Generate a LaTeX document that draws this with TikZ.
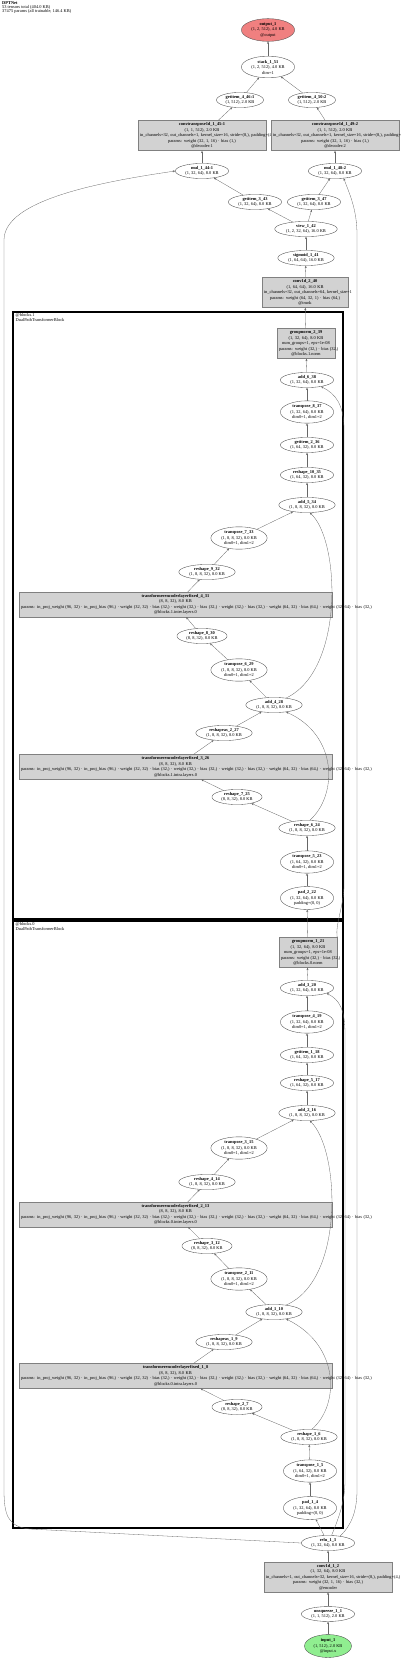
\documentclass[tikz,border=0pt]{standalone}
\usepackage{fontspec}
\setmainfont{Liberation Serif}
\usepackage{tikz}
\usetikzlibrary{shapes.geometric, arrows.meta}
\definecolor{outfill}{HTML}{F08080}
\definecolor{infill}{HTML}{90EE90}
\newcommand{\tfparams}{params: in\_proj\_weight (96, 32) · in\_proj\_bias (96,) · weight (32, 32) · bias (32,) · weight (32,) · bias (32,) · weight (32,) · bias (32,) · weight (64, 32) · bias (64,) · weight (32, 64) · bias (32,)}

\begin{document}
        \begin{tikzpicture}[x = 1pt, y = -1pt,
            opnode/.style = {ellipse, draw = black!70, fill = white, line width = 0.35pt, inner xsep = 2.2pt, inner ysep = 0.6pt, align = center, font = \fontsize{4.4}{5.5}\selectfont},
            modbox/.style = {rectangle, draw = black!50, fill = gray!35, line width = 0.35pt, inner xsep = 2pt, inner ysep = 2.2pt, align = center, font = \fontsize{4.4}{5.5}\selectfont, text width = #1},
            cluster/.style = {draw = black, line width = 1.1pt},
            flow/.style = {draw = black!60, line width = 0.3pt, -{Stealth[length = 2.4pt, width = 2pt]}}]
            \useasboundingbox (0, 0) rectangle (400, 1661);
            \node[anchor = north west, align = left, inner sep = 0pt, font = \fontsize{4.4}{4.4}\selectfont] (title) at (2, 1) {\textbf{DPTNet}\\53 tensors total (404.0 KB)\\37475 params (all trainable, 146.4 KB)};
            \draw[cluster] (13, 312) rectangle (343, 919);
            \draw[cluster] (13, 921) rectangle (343, 1528);
            \node[anchor = north west, align = left, inner sep = 0pt, font = \fontsize{4.4}{4.8}\selectfont] (lab1) at (15.5, 313.5) {@blocks.1\\DualPathTransformerBlock};
            \node[anchor = north west, align = left, inner sep = 0pt, font = \fontsize{4.4}{4.8}\selectfont] (lab0) at (15.5, 922.5) {@blocks.0\\DualPathTransformerBlock};
            \node[opnode, fill = outfill] (out) at (268, 30) {\textbf{output\_1}\\(1, 2, 512), 4.0 KB\\@output};
            \node[opnode] (stack51) at (268, 67) {\textbf{stack\_1\_51}\\(1, 2, 512), 4.0 KB\\dim=1};
            \node[opnode] (gi46) at (240, 100) {\textbf{getitem\_4\_46:1}\\(1, 512), 2.0 KB};
            \node[opnode] (gi50) at (312, 100) {\textbf{getitem\_4\_50:2}\\(1, 512), 2.0 KB};
            \node[modbox = 124pt] (ct45) at (202, 135.5) {\textbf{convtranspose1d\_1\_45:1}\\(1, 1, 512), 2.0 KB\\\mbox{in\_channels=32, out\_channels=1, kernel\_size=16, stride=(8,), padding=(4,)}\\\mbox{params: weight (32, 1, 16) · bias (1,)}\\@decoder:1};
            \node[modbox = 124pt] (ct49) at (335, 135.5) {\textbf{convtranspose1d\_1\_49:2}\\(1, 1, 512), 2.0 KB\\\mbox{in\_channels=32, out\_channels=1, kernel\_size=16, stride=(8,), padding=(4,)}\\\mbox{params: weight (32, 1, 16) · bias (1,)}\\@decoder:2};
            \node[opnode] (mul44) at (202, 171) {\textbf{mul\_1\_44:1}\\(1, 32, 64), 8.0 KB};
            \node[opnode] (mul48) at (335, 171) {\textbf{mul\_1\_48:2}\\(1, 32, 64), 8.0 KB};
            \node[opnode] (gi43) at (255, 202) {\textbf{getitem\_3\_43}\\(1, 32, 64), 8.0 KB};
            \node[opnode] (gi47) at (314, 202) {\textbf{getitem\_3\_47}\\(1, 32, 64), 8.0 KB};
            \node[opnode] (view42) at (306, 229) {\textbf{view\_1\_42}\\(1, 2, 32, 64), 16.0 KB};
            \node[opnode] (sig41) at (306, 258) {\textbf{sigmoid\_1\_41}\\(1, 64, 64), 16.0 KB};
            \node[modbox = 82pt] (conv40) at (305, 292.5) {\textbf{conv1d\_2\_40}\\(1, 64, 64), 16.0 KB\\\mbox{in\_channels=32, out\_channels=64, kernel\_size=1}\\\mbox{params: weight (64, 32, 1) · bias (64,)}\\@trunk};
            \node[modbox = 54pt] (gn39) at (306, 343.5) {\textbf{groupnorm\_2\_39}\\(1, 32, 64), 8.0 KB\\\mbox{num\_groups=1, eps=1e-08}\\\mbox{params: weight (32,) · bias (32,)}\\@blocks.1.norm};
            \node[opnode] (add38) at (307, 380) {\textbf{add\_6\_38}\\(1, 32, 64), 8.0 KB};
            \node[opnode] (tr37) at (307, 412) {\textbf{transpose\_8\_37}\\(1, 32, 64), 8.0 KB\\dim0=1, dim1=2};
            \node[opnode] (gi36) at (307, 445) {\textbf{getitem\_2\_36}\\(1, 64, 32), 8.0 KB};
            \node[opnode] (rs35) at (307, 475) {\textbf{reshape\_10\_35}\\(1, 64, 32), 8.0 KB};
            \node[opnode] (add34) at (307, 505) {\textbf{add\_5\_34}\\(1, 8, 8, 32), 8.0 KB};
            \node[opnode] (tr33) at (239, 538) {\textbf{transpose\_7\_33}\\(1, 8, 8, 32), 8.0 KB\\dim0=1, dim1=2};
            \node[opnode] (rs32) at (207, 572) {\textbf{reshape\_9\_32}\\(1, 8, 8, 32), 8.0 KB};
            \node[modbox = 309pt] (tf31) at (175.5, 604.5) {\textbf{transformerencoderlayerfixed\_4\_31}\\(8, 8, 32), 8.0 KB\\\mbox{\tfparams}\\@blocks.1.inter.layers.0};
            \node[opnode] (rs30) at (202, 636) {\textbf{reshape\_8\_30}\\(8, 8, 32), 8.0 KB};
            \node[opnode] (tr29) at (239, 670) {\textbf{transpose\_6\_29}\\(1, 8, 8, 32), 8.0 KB\\dim0=1, dim1=2};
            \node[opnode] (add28) at (274, 705) {\textbf{add\_4\_28}\\(1, 8, 8, 32), 8.0 KB};
            \node[opnode] (ra27) at (224, 733) {\textbf{reshapeas\_2\_27}\\(1, 8, 8, 32), 8.0 KB};
            \node[modbox = 309pt] (tf26) at (175.5, 767) {\textbf{transformerencoderlayerfixed\_3\_26}\\(8, 8, 32), 8.0 KB\\\mbox{\tfparams}\\@blocks.1.intra.layers.0};
            \node[opnode] (rs25) at (237, 797) {\textbf{reshape\_7\_25}\\(8, 8, 32), 8.0 KB};
            \node[opnode] (rs24) at (307, 828) {\textbf{reshape\_6\_24}\\(1, 8, 8, 32), 8.0 KB};
            \node[opnode] (tr23) at (307, 862) {\textbf{transpose\_5\_23}\\(1, 64, 32), 8.0 KB\\dim0=1, dim1=2};
            \node[opnode] (pad22) at (307, 898) {\textbf{pad\_2\_22}\\(1, 32, 64), 8.0 KB\\padding=(0, 0)};
            \node[modbox = 54pt] (gn21) at (308, 952.5) {\textbf{groupnorm\_1\_21}\\(1, 32, 64), 8.0 KB\\\mbox{num\_groups=1, eps=1e-08}\\\mbox{params: weight (32,) · bias (32,)}\\@blocks.0.norm};
            \node[opnode] (add20) at (307, 988) {\textbf{add\_3\_20}\\(1, 32, 64), 8.0 KB};
            \node[opnode] (tr19) at (307, 1022) {\textbf{transpose\_4\_19}\\(1, 32, 64), 8.0 KB\\dim0=1, dim1=2};
            \node[opnode] (gi18) at (307, 1055) {\textbf{getitem\_1\_18}\\(1, 64, 32), 8.0 KB};
            \node[opnode] (rs17) at (307, 1083) {\textbf{reshape\_5\_17}\\(1, 64, 32), 8.0 KB};
            \node[opnode] (add16) at (307, 1113) {\textbf{add\_2\_16}\\(1, 8, 8, 32), 8.0 KB};
            \node[opnode] (tr15) at (239, 1148) {\textbf{transpose\_3\_15}\\(1, 8, 8, 32), 8.0 KB\\dim0=1, dim1=2};
            \node[opnode] (rs14) at (207, 1182) {\textbf{reshape\_4\_14}\\(1, 8, 8, 32), 8.0 KB};
            \node[modbox = 309pt] (tf13) at (175.5, 1214.5) {\textbf{transformerencoderlayerfixed\_2\_13}\\(8, 8, 32), 8.0 KB\\\mbox{\tfparams}\\@blocks.0.inter.layers.0};
            \node[opnode] (rs12) at (207, 1246) {\textbf{reshape\_3\_12}\\(8, 8, 32), 8.0 KB};
            \node[opnode] (tr11) at (239, 1279) {\textbf{transpose\_2\_11}\\(1, 8, 8, 32), 8.0 KB\\dim0=1, dim1=2};
            \node[opnode] (add10) at (274, 1312) {\textbf{add\_1\_10}\\(1, 8, 8, 32), 8.0 KB};
            \node[opnode] (ra9) at (224, 1342) {\textbf{reshapeas\_1\_9}\\(1, 8, 8, 32), 8.0 KB};
            \node[modbox = 309pt] (tf8) at (175.5, 1376) {\textbf{transformerencoderlayerfixed\_1\_8}\\(8, 8, 32), 8.0 KB\\\mbox{\tfparams}\\@blocks.0.intra.layers.0};
            \node[opnode] (rs7) at (237, 1407) {\textbf{reshape\_2\_7}\\(8, 8, 32), 8.0 KB};
            \node[opnode] (rs6) at (309, 1437) {\textbf{reshape\_1\_6}\\(1, 8, 8, 32), 8.0 KB};
            \node[opnode] (tr5) at (310, 1471) {\textbf{transpose\_1\_5}\\(1, 64, 32), 8.0 KB\\dim0=1, dim1=2};
            \node[opnode] (pad4) at (310, 1508) {\textbf{pad\_1\_4}\\(1, 32, 64), 8.0 KB\\padding=(0, 0)};
            \node[opnode] (relu3) at (328, 1543) {\textbf{relu\_1\_3}\\(1, 32, 64), 8.0 KB};
            \node[modbox = 124pt] (conv2) at (328, 1577) {\textbf{conv1d\_1\_2}\\(1, 32, 64), 8.0 KB\\\mbox{in\_channels=1, out\_channels=32, kernel\_size=16, stride=(8,), padding=(4,)}\\\mbox{params: weight (32, 1, 16) · bias (32,)}\\@encoder};
            \node[opnode] (unsq1) at (328, 1614) {\textbf{unsqueeze\_1\_1}\\(1, 1, 512), 2.0 KB};
            \node[opnode, fill = infill] (in) at (328, 1646) {\textbf{input\_1}\\(1, 512), 2.0 KB\\@input.x};
            \foreach \a/\b in {in/unsq1, unsq1/conv2, conv2/relu3, relu3/pad4, pad4/tr5, tr5/rs6, rs6/rs7, rs7/tf8, tf8/ra9, ra9/add10, add10/tr11, tr11/rs12, rs12/tf13, tf13/rs14, rs14/tr15, tr15/add16, add16/rs17, rs17/gi18, gi18/tr19, tr19/add20, add20/gn21, gn21/pad22, pad22/tr23, tr23/rs24, rs24/rs25, rs25/tf26, tf26/ra27, ra27/add28, add28/tr29, tr29/rs30, rs30/tf31, tf31/rs32, rs32/tr33, tr33/add34, add34/rs35, rs35/gi36, gi36/tr37, tr37/add38, add38/gn39, gn39/conv40, conv40/sig41, sig41/view42, view42/gi43, view42/gi47, gi43/mul44, gi47/mul48, mul44/ct45, mul48/ct49, ct45/gi46, ct49/gi50, gi46/stack51, gi50/stack51, stack51/out}
                \draw[flow] (\a) -- (\b);
            \draw[flow] (rs6.70) .. controls (340, 1405) and (340, 1345) .. (add10.-30);
            \draw[flow] (add10.30) .. controls (345, 1280) and (340, 1150) .. (add16.-70);
            \draw[flow] (rs24.70) .. controls (338, 795) and (338, 735) .. (add28.-30);
            \draw[flow] (add28.30) .. controls (345, 670) and (340, 540) .. (add34.-70);
            \draw[flow] (relu3.65) .. controls (340, 1515) and (345, 1500) .. (345, 1480) -- (345, 1035) .. controls (345, 1010) and (340, 1000) .. (add20.-15);
            \draw[flow] (gn21.north east) .. controls (335, 925) and (344, 905) .. (344, 885) -- (344, 430) .. controls (344, 405) and (336, 394) .. (add38.-25);
            \draw[flow] (relu3.west) -- (30, 1529) .. controls (8, 1527) and (4, 1515) .. (4, 1490) -- (4, 240) .. controls (4, 200) and (100, 182) .. (mul44.west);
            \draw[flow] (relu3.30) .. controls (352, 1525) and (357, 1510) .. (357, 1490) -- (357, 235) .. controls (357, 210) and (350, 195) .. (mul48.-40);
        \end{tikzpicture}
\end{document}
